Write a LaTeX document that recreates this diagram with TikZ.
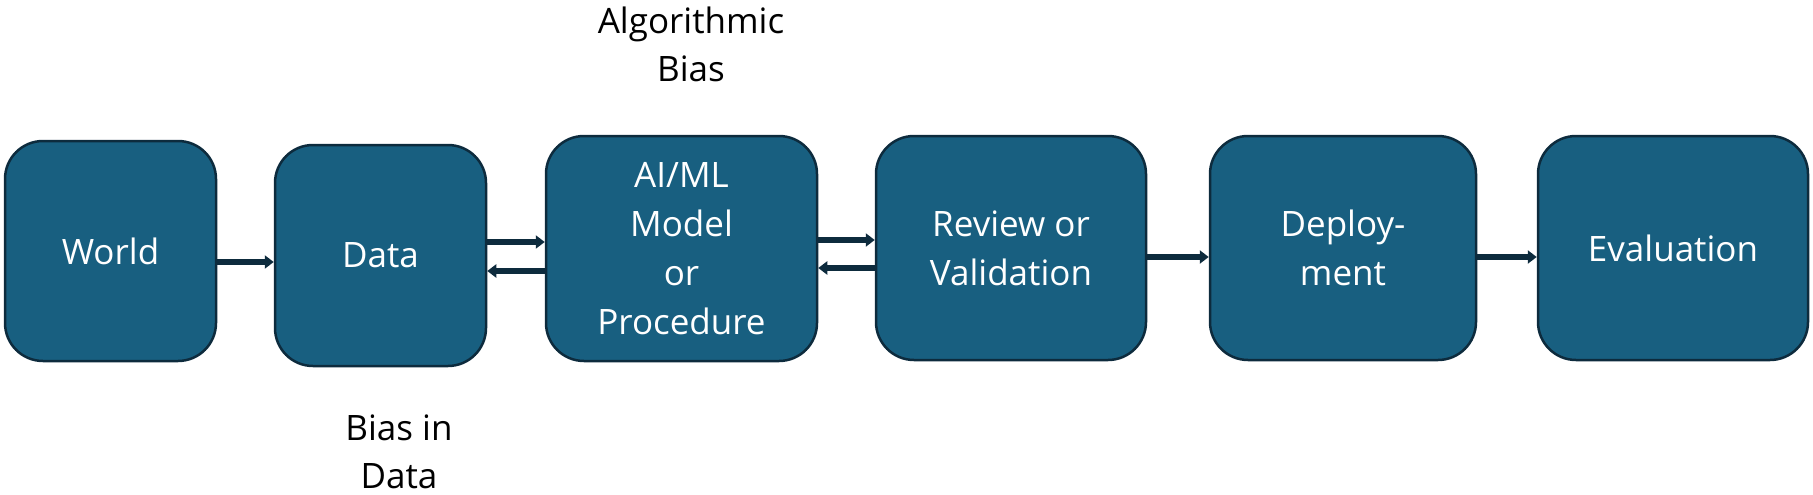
\documentclass[tikz,border=0pt]{standalone}
\usepackage{fontspec}
\setmainfont{Open Sans}
\usetikzlibrary{arrows.meta}
\definecolor{boxfill}{HTML}{185F80}
\definecolor{boxline}{HTML}{0D2B3D}
\begin{document}
\begin{tikzpicture}[x=1pt,y=-1pt,
  box/.style={draw=boxline,line width=2.5pt,fill=boxfill,rounded corners=38pt,text=white,align=center,font=\fontsize{35}{49}\selectfont,inner sep=0pt},
  conn/.style={draw=boxline,line width=5.5pt,-{Triangle[length=9pt,width=13pt]}},
  lbl/.style={align=center,font=\fontsize{35}{48}\selectfont,text=black}]
\useasboundingbox (0,0) rectangle (1813,495);
\node[box,minimum width=211pt,minimum height=220pt] (world) at (110.5,251) {World};
\node[box,minimum width=211pt,minimum height=221pt] (data) at (380.5,255.5) {Data};
\node[box,minimum width=271pt,minimum height=225pt] (ai) at (681.5,248.5) {AI/ML\\Model\\or\\Procedure};
\node[box,minimum width=270pt,minimum height=224pt] (rev) at (1011,248) {Review or\\Validation};
\node[box,minimum width=266pt,minimum height=224pt] (dep) at (1343,248) {Deploy-\\ment};
\node[box,minimum width=270pt,minimum height=224pt] (eval) at (1673,248) {Evaluation};
\node[lbl] (alg) at (691,44) {Algorithmic\\Bias};
\node[lbl] (bid) at (399,452) {Bias in\\Data};
\draw[conn] (world.east |- 0,262) -- (data.west |- 0,262);
\draw[conn] (data.east |- 0,242) -- (ai.west |- 0,242);
\draw[conn] (ai.west |- 0,271) -- (data.east |- 0,271);
\draw[conn] (ai.east |- 0,240) -- (rev.west |- 0,240);
\draw[conn] (rev.west |- 0,268) -- (ai.east |- 0,268);
\draw[conn] (rev.east |- 0,257) -- (dep.west |- 0,257);
\draw[conn] (dep.east |- 0,257) -- (eval.west |- 0,257);
\end{tikzpicture}
\end{document}
